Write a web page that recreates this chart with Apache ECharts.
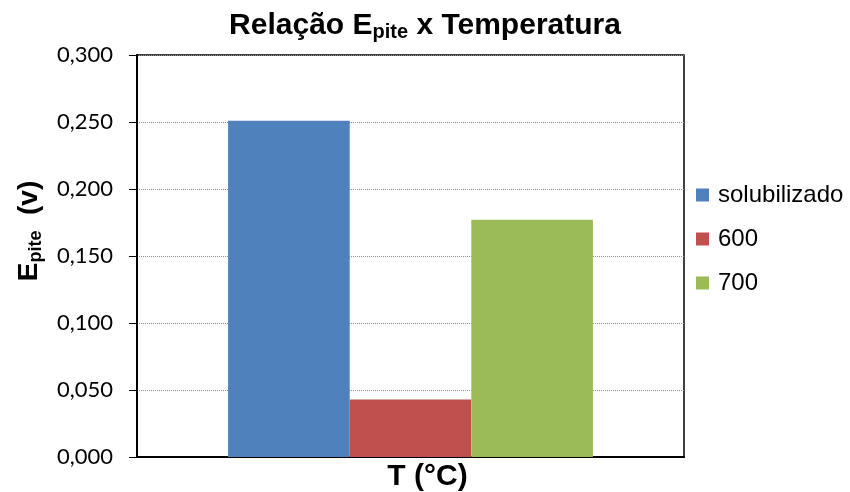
<!DOCTYPE html>
<html><head><meta charset="utf-8">
<script src="https://cdn.jsdelivr.net/npm/echarts@6/dist/echarts.min.js"></script>
<style>html,body{margin:0;padding:0;background:#fff}#c{width:850px;height:492px}</style>
</head><body><div id="c"></div>
<script>
const categories = ['T (°C)'];
const seriesNames = ['solubilizado', '600', '700'];
const solubilizado = [0.251];
const s600 = [0.043];
const s700 = [0.177];
const yTicks = [0, 0.05, 0.1, 0.15, 0.2, 0.25, 0.3];

const colors = ['#4F81BD', '#C0504D', '#9BBB59'];
const chart = echarts.init(document.getElementById('c'));
const values = [solubilizado, s600, s700];
chart.setOption({
  animation: false,
  color: colors,
  title: {
    text: '{t|Relação E}{s|pite}{t| x Temperatura}',
    left: 'center', top: 4,
    textStyle: { rich: {
      t: { fontFamily: 'Liberation Sans', fontWeight: 'bold', fontSize: 30, color: '#000' },
      s: { fontFamily: 'Liberation Sans', fontWeight: 'bold', fontSize: 20, color: '#000', verticalAlign: 'bottom', padding: [13, 0, 0, 0] }
    } }
  },
  legend: {
    orient: 'vertical', left: 691, top: 178,
    itemWidth: 13, itemHeight: 13, itemGap: 20,
    icon: 'rect',
    textStyle: { fontFamily: 'Liberation Sans', fontSize: 24, color: '#000', padding: [0, 0, 0, 4] },
    data: seriesNames
  },
  grid: { left: 137, right: 166, top: 55, bottom: 34, show: true, borderColor: '#000', borderWidth: 1.5 },
  xAxis: {
    type: 'category', data: categories,
    axisLine: { lineStyle: { color: '#000', width: 2 } },
    axisTick: { show: false },
    axisLabel: { margin: 5, fontFamily: 'Liberation Sans', fontWeight: 'bold', fontSize: 30, color: '#000', padding: [0, 0, 0, 34] }
  },
  yAxis: {
    type: 'value', min: 0, max: 0.3, interval: 0.05,
    axisLine: { show: true, lineStyle: { color: '#000', width: 2 } },
    axisTick: { show: true, inside: false, length: 8, lineStyle: { color: '#000' } },
    axisLabel: { margin: 24, fontFamily: 'Lato', fontSize: 22, color: '#000',
      formatter: v => v.toFixed(3).replace('.', ',') },
    splitLine: { lineStyle: { color: '#8c8c8c', type: 'dotted', width: 1 } },
    name: '{e|E}{s|pite}{e|  (v)}',
    nameLocation: 'middle', nameGap: 92, nameRotate: 90,
    nameTextStyle: { padding: [0, 0, 0, 50], rich: {
      e: { fontFamily: 'Liberation Sans', fontWeight: 'bold', fontSize: 28, color: '#000' },
      s: { fontFamily: 'Liberation Sans', fontWeight: 'bold', fontSize: 18, color: '#000', verticalAlign: 'bottom', padding: [13, 0, 0, 0] }
    } }
  },
  series: seriesNames.map((n, i) => ({
    name: n, type: 'bar', data: values[i],
    barGap: '0%', barCategoryGap: '33.3%'
  }))
});
</script></body></html>
